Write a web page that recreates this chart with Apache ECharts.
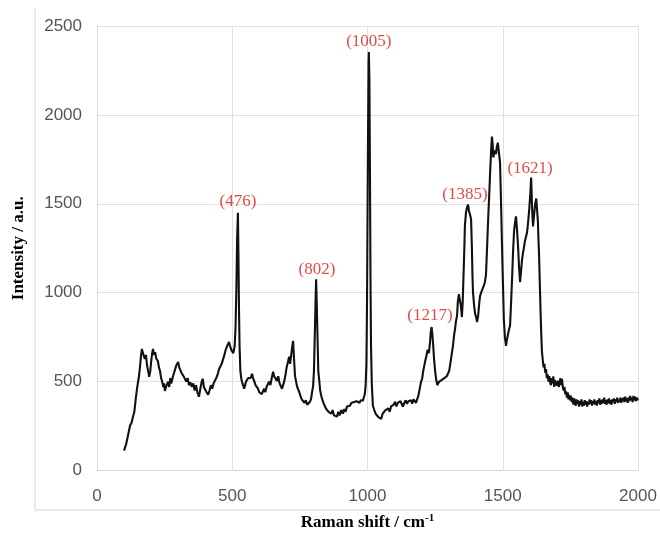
<!DOCTYPE html>
<html>
<head>
<meta charset="utf-8">
<script src="https://cdn.jsdelivr.net/npm/echarts@6/dist/echarts.min.js"></script>
<style>
html,body{margin:0;padding:0;background:#fff;}
#c{width:660px;height:536px;}
</style>
</head>
<body>
<div id="c"></div>
<script>
const shiftX = [100,108,115,122,128,133,138,143,148,152,156,160,163,166,170,174,177,181,185,189,193,197,200,204,207,211,215,219,222,225,229,233,237,241,245,248,251,255,259,263,267,271,274,277,281,285,289,293,297,300,304,308,312,316,320,325,330,335,340,345,351,356,361,366,371,377,382,387,391,395,400,405,411,416,421,426,431,436,441,446,451,456,461,466,471,476,481,485,488,492,496,500,504,506,509,512,515,518,521,523,525,527,530,533,536,540,544,547,551,555,559,563,568,573,577,582,586,590,595,600,605,609,614,618,622,627,632,636,641,646,651,655,660,665,670,675,680,684,688,692,697,701,706,710,714,718,722,725,728,732,736,740,743,748,752,757,762,767,772,777,782,787,791,795,799,802,805,808,810,813,816,818,821,825,829,832,837,841,846,851,856,861,866,871,876,881,887,892,897,903,909,914,919,924,930,935,940,945,950,955,960,965,970,975,979,983,987,990,993,996,998,1000,1002,1004,1005,1007,1009,1011,1013,1016,1020,1025,1030,1035,1040,1046,1051,1056,1061,1067,1072,1077,1082,1087,1092,1097,1102,1107,1112,1117,1122,1126,1131,1136,1141,1146,1151,1156,1161,1165,1170,1175,1179,1183,1188,1193,1198,1202,1206,1210,1214,1218,1222,1226,1228,1231,1234,1237,1240,1243,1246,1250,1254,1258,1261,1265,1270,1275,1279,1284,1289,1293,1298,1302,1307,1311,1316,1320,1324,1327,1331,1334,1338,1341,1345,1349,1352,1355,1358,1360,1364,1368,1372,1375,1379,1383,1386,1388,1390,1394,1398,1402,1405,1409,1413,1416,1420,1425,1430,1434,1438,1442,1446,1450,1454,1457,1460,1463,1465,1468,1471,1475,1478,1482,1485,1488,1490,1493,1496,1499,1501,1504,1508,1512,1516,1520,1524,1527,1531,1535,1538,1542,1546,1549,1553,1557,1560,1564,1567,1571,1575,1578,1582,1586,1590,1594,1598,1602,1605,1608,1610,1612,1616,1620,1624,1627,1630,1632,1634,1637,1640,1643,1645,1648,1651,1654,1657,1660,1663,1666,1669,1672,1675,1678,1681,1684,1687,1690,1693,1696,1699,1701,1704,1707,1710,1713,1716,1719,1722,1725,1728,1731,1734,1737,1740,1743,1746,1749,1752,1755,1758,1761,1764,1767,1770,1773,1776,1779,1782,1785,1788,1791,1794,1797,1800,1803,1806,1809,1812,1815,1818,1821,1824,1827,1830,1833,1836,1839,1842,1845,1848,1851,1854,1857,1860,1863,1866,1869,1872,1875,1878,1881,1884,1887,1890,1893,1896,1899,1902,1905,1908,1911,1914,1917,1920,1923,1926,1929,1932,1935,1938,1941,1944,1947,1950,1953,1956,1959,1962,1965,1968,1971,1974,1977,1980,1983,1986,1989,1992,1995,1998,2000];
const intensity = [112,150,200,252,270,302,330,400,460,470,540,600,650,684,660,640,628,650,590,560,527,560,610,660,684,650,665,630,640,617,580,560,520,500,470,490,448,470,480,500,470,520,490,504,530,550,570,590,600,611,580,590,550,560,530,516,500,520,480,495,471,490,450,480,440,415,460,500,516,470,480,440,426,450,480,460,490,499,520,540,570,580,600,611,650,680,700,690,723,700,680,690,660,667,700,800,1000,1300,1450,1200,900,700,560,520,499,480,460,476,500,490,520,530,520,544,520,500,480,470,460,440,450,430,432,460,440,470,476,500,480,520,555,530,520,504,530,490,480,460,480,500,540,580,611,640,600,650,700,729,640,532,500,470,460,440,420,400,392,380,395,370,380,387,400,440,476,560,750,950,1076,900,700,560,516,450,420,404,380,370,350,360,330,331,320,340,310,320,303,330,310,340,320,345,330,360,350,364,380,370,385,375,390,387,380,395,390,392,400,430,476,600,900,1400,1900,2300,2354,2200,1700,1100,700,480,364,340,320,330,300,308,290,320,310,340,331,350,330,360,350,370,387,360,380,370,390,375,359,380,395,375,390,380,395,376,400,390,380,387,420,460,500,516,560,590,620,645,680,660,673,720,780,807,760,700,628,560,510,480,476,500,490,510,499,520,510,530,527,560,610,650,701,760,800,840,869,950,992,960,930,863,950,1100,1250,1373,1450,1480,1496,1460,1440,1412,1250,1100,1003,930,880,860,835,870,940,981,1000,1020,1040,1059,1100,1250,1412,1550,1700,1800,1878,1830,1760,1749,1800,1780,1820,1844,1800,1760,1732,1550,1350,1150,1037,850,750,701,740,770,800,813,950,1100,1227,1350,1400,1429,1350,1250,1150,1059,1110,1180,1227,1250,1290,1300,1340,1400,1470,1560,1648,1500,1420,1373,1440,1500,1530,1524,1400,1300,1227,1050,880,740,667,620,580,600,550,570,520,540,500,530,499,480,520,490,530,470,510,480,500,476,505,470,490,520,480,516,470,450,470,430,445,410,440,400,425,395,420,385,410,370,405,380,365,400,375,395,360,390,370,400,360,385,365,395,370,390,360,385,370,400,375,395,365,390,375,400,370,390,365,395,380,405,370,395,375,400,380,410,375,395,370,400,380,405,375,395,370,400,385,405,375,400,385,410,380,400,385,410,380,405,390,410,385,415,390,405,380,410,390,420,395,410,385,420,395,415,390,410,395,405];

const labelX = [521, 813, 1005, 1231, 1360, 1601];
const labelY = [1515, 1132, 2410, 874, 1552, 1698];
const labelText = ['(476)', '(802)', '(1005)', '(1217)', '(1385)', '(1621)'];

const xTicks = [0, 500, 1000, 1500, 2000];
const yTicks = [0, 500, 1000, 1500, 2000, 2500];

const chart = echarts.init(document.getElementById('c'), null, {renderer: 'canvas'});
const lineData = shiftX.map((x, i) => [x, intensity[i]]);
const labData = labelX.map((x, i) => ({value: [x, labelY[i]], name: labelText[i]}));

chart.setOption({
  animation: false,
  backgroundColor: '#fff',
  grid: {left: 97, right: 22, top: 26, bottom: 64, containLabel: false},
  xAxis: {
    type: 'value', min: xTicks[0], max: xTicks[xTicks.length - 1], interval: 500,
    axisLine: {show: true, lineStyle: {color: '#d9d9d9', width: 1}},
    axisTick: {show: false},
    splitLine: {show: true, lineStyle: {color: '#e0e0e0', width: 1}},
    axisLabel: {color: '#555', fontSize: 17, fontFamily: 'Liberation Sans, Arial, sans-serif', margin: 17, formatter: v => String(v)},
    name: 'Raman shift / cm{sup|-1}',
    nameLocation: 'middle', nameGap: 42,
    nameTextStyle: {
      color: '#000', fontSize: 17, fontWeight: 'bold', fontFamily: 'Liberation Serif, Times New Roman, serif',
      rich: {sup: {fontSize: 11, fontWeight: 'bold', fontFamily: 'Liberation Serif, serif', color: '#000', verticalAlign: 'top', padding: [0, 0, 9, 0]}}
    }
  },
  yAxis: {
    type: 'value', min: yTicks[0], max: yTicks[yTicks.length - 1], interval: 500,
    axisLine: {show: true, lineStyle: {color: '#d9d9d9', width: 1}},
    axisTick: {show: false},
    splitLine: {show: true, lineStyle: {color: '#e0e0e0', width: 1}},
    axisLabel: {color: '#555', fontSize: 17, fontFamily: 'Liberation Sans, Arial, sans-serif', margin: 15, formatter: v => String(v)},
    name: 'Intensity / a.u.',
    nameLocation: 'middle', nameGap: 70,
    nameTextStyle: {color: '#000', fontSize: 17, fontWeight: 'bold', fontFamily: 'Liberation Serif, Times New Roman, serif'}
  },
  graphic: [
    {type: 'line', shape: {x1: 35, y1: 8, x2: 35, y2: 510}, style: {stroke: '#d5d5d5', lineWidth: 1}, silent: true},
    {type: 'line', shape: {x1: 35, y1: 510, x2: 660, y2: 510}, style: {stroke: '#d5d5d5', lineWidth: 1}, silent: true}
  ],
  series: [
    {
      type: 'line', data: lineData, showSymbol: false, symbol: 'none',
      lineStyle: {color: '#111', width: 2.1}, z: 3
    },
    {
      type: 'scatter', data: labData, symbolSize: 0, z: 4,
      label: {
        show: true, position: 'inside', formatter: p => p.name,
        color: '#dc1c1c', fontSize: 17, fontFamily: 'Liberation Serif, Times New Roman, serif'
      }
    }
  ]
});
</script>
</body>
</html>
